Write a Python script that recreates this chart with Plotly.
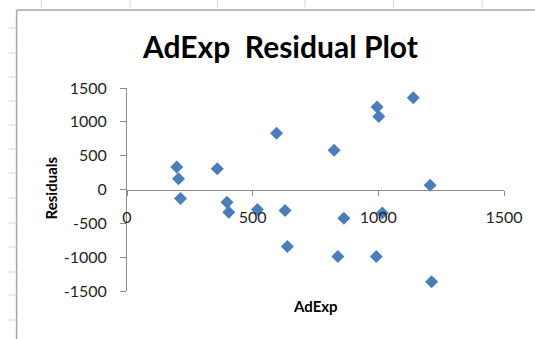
import plotly.graph_objects as go

adexp = [198, 205, 213, 359, 398, 405, 519, 595, 629, 638, 824, 839, 863, 995, 1002, 992, 1016, 1139, 1206, 1212]
residuals = [331, 159, -134, 307, -188, -337, -297, 832, -312, -842, 580, -991, -426, 1218, 1080, -991, -346, 1357, 64, -1362]
tick_vals_x = [0, 500, 1000, 1500]
tick_text_x = ["0", "500", "1000", "1500"]
tick_vals_y = [-1500, -1000, -500, 0, 500, 1000, 1500]
tick_text_y = ["-1500", "-1000", "-500", "0", "500", "1000", "1500"]

W, H = 535, 339
L, R, T, B = 127, 29, 88, 48
PW, PH = W - L - R, H - T - B


def px(x):
    return (x - L) / PW


def py(y):
    return (H - B - y) / PH


FONT = "Lato, Carlito, Calibri, sans-serif"
AXC = "#8c8c8c"

fig = go.Figure()
fig.add_trace(go.Scatter(
    x=adexp, y=residuals, mode="markers",
    marker=dict(symbol="diamond", size=10, color="#4a7ebb", line=dict(width=0)),
    cliponaxis=False, showlegend=False,
))

shapes = []
shapes.append(dict(type="line", xref="paper", yref="paper", x0=px(16), x1=px(16), y0=py(10), y1=py(H + 2),
                   line=dict(color="#a6a6a6", width=1.5)))
shapes.append(dict(type="line", xref="paper", yref="paper", x0=px(16), x1=px(W + 2), y0=py(10), y1=py(10),
                   line=dict(color="#a6a6a6", width=1.5)))
for gx in [41, 130, 218, 306, 395, 484]:
    shapes.append(dict(type="line", xref="paper", yref="paper", x0=px(gx), x1=px(gx), y0=py(0), y1=py(7),
                       line=dict(color="#d4d4d4", width=1)))
for gy in [28, 53, 77, 101, 125, 149, 173, 198, 223, 247, 272, 295, 320]:
    shapes.append(dict(type="line", xref="paper", yref="paper", x0=px(8), x1=px(16), y0=py(gy), y1=py(gy),
                       line=dict(color="#d4d4d4", width=1)))

annotations = [
    dict(text="<b>AdExp\u00a0 Residual Plot</b>", xref="paper", yref="paper", x=px(281), y=py(46),
         showarrow=False, font=dict(family=FONT, size=30, color="#000000"), xanchor="center", yanchor="middle"),
    dict(text="<b>AdExp</b>", xref="paper", yref="paper", x=px(317), y=py(306),
         showarrow=False, font=dict(family=FONT, size=15, color="#000000"), xanchor="center", yanchor="middle"),
    dict(text="<b>Residuals</b>", xref="paper", yref="paper", x=px(51), y=py(188), textangle=-90,
         showarrow=False, font=dict(family=FONT, size=15, color="#000000"), xanchor="center", yanchor="middle"),
]

fig.update_layout(
    width=W, height=H,
    margin=dict(l=L, r=R, t=T, b=B, pad=0),
    paper_bgcolor="white", plot_bgcolor="white",
    shapes=shapes, annotations=annotations,
    xaxis=dict(range=[0, 1500], tickvals=tick_vals_x, ticktext=tick_text_x, showgrid=False, zeroline=False,
               anchor="free", position=0.5, showline=True, linecolor=AXC, linewidth=1,
               ticks="outside", ticklen=5, tickcolor=AXC, ticklabelstandoff=8,
               tickfont=dict(family=FONT, size=16, color="#1f1f1f")),
    yaxis=dict(range=[-1500, 1500], tickvals=tick_vals_y, ticktext=tick_text_y, showgrid=False, zeroline=False,
               showline=True, linecolor=AXC, linewidth=1,
               ticks="outside", ticklen=6, tickcolor=AXC, ticklabelstandoff=10,
               tickfont=dict(family=FONT, size=16, color="#1f1f1f")),
)

fig.write_html("out.html", config={"displayModeBar": False},
               post_script="document.body.style.margin='0';document.body.style.padding='0';")
